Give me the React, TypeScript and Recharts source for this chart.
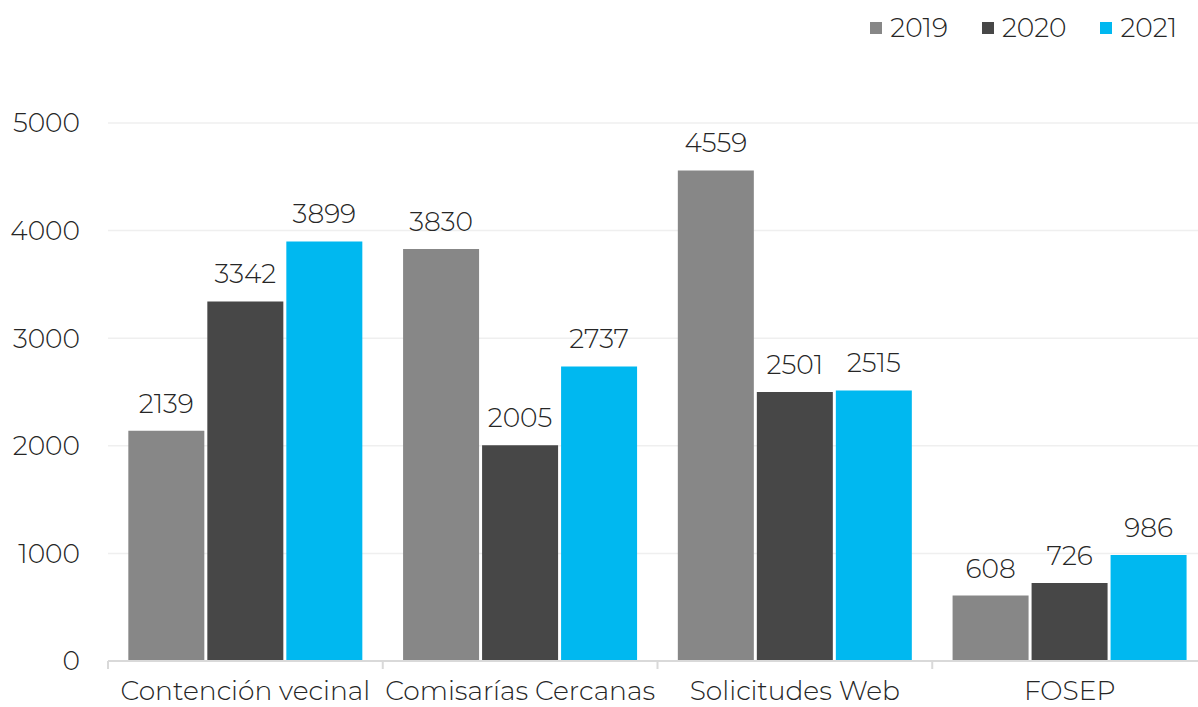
import { BarChart, Bar, XAxis, YAxis, CartesianGrid, LabelList } from 'recharts'

const categories = ['Contención vecinal', 'Comisarías Cercanas', 'Solicitudes Web', 'FOSEP']
const values2019 = [2139, 3830, 4559, 608]
const values2020 = [3342, 2005, 2501, 726]
const values2021 = [3899, 2737, 2515, 986]
const yTicks = [0, 1000, 2000, 3000, 4000, 5000]

const SERIES = [
  { key: 'y2019', name: '2019', color: '#878787' },
  { key: 'y2020', name: '2020', color: '#474747' },
  { key: 'y2021', name: '2021', color: '#00B8F0' },
]

const FONT = 'Montserrat, "Noto Sans", Lato, sans-serif'
const TEXT = '#262626'
const FS = 26.5

const WIDTH = 1198
const HEIGHT = 707
const Y_AXIS_W = 108
const RIGHT = -9
const BAND = (WIDTH - Y_AXIS_W - RIGHT) / categories.length

const data = categories.map((name, i) => ({
  name,
  y2019: values2019[i],
  y2020: values2020[i],
  y2021: values2021[i],
}))

function CategoryTick(props: any) {
  const { x, y, payload, index } = props
  const left = x - BAND / 2
  return (
    <g>
      <line x1={left} y1={y - 8} x2={left} y2={y} stroke="#d9d9d9" strokeWidth={2} />
      {index === categories.length - 1 && (
        <line x1={left + BAND} y1={y - 8} x2={left + BAND} y2={y} stroke="#d9d9d9" strokeWidth={2} />
      )}
      <text x={x} y={y + 31} textAnchor="middle" fontSize={FS} fontFamily={FONT} fontWeight={300} fill={TEXT}>
        {payload.value}
      </text>
    </g>
  )
}

function LegendBox() {
  return (
    <div style={{ position: 'absolute', top: 10, right: 21, display: 'flex', gap: 34, fontFamily: FONT, fontSize: FS, fontWeight: 300, color: TEXT, lineHeight: '36px' }}>
      {SERIES.map(s => (
        <div key={s.key} style={{ display: 'flex', alignItems: 'center', gap: 8 }}>
          <div style={{ width: 12, height: 12, backgroundColor: s.color }} />
          <span>{s.name}</span>
        </div>
      ))}
    </div>
  )
}

export default function App() {
  return (
    <div style={{ position: 'absolute', left: 0, top: 0, width: WIDTH, height: HEIGHT, background: '#fff', overflow: 'hidden' }}>
      <BarChart
        width={WIDTH}
        height={HEIGHT}
        data={data}
        margin={{ top: 123, right: RIGHT, left: 0, bottom: 0 }}
        barCategoryGap="7.4%"
        barGap={3}
      >
        <CartesianGrid vertical={false} stroke="#efefef" strokeWidth={1.5} />
        <XAxis
          dataKey="name"
          height={46}
          interval={0}
          axisLine={{ stroke: '#d9d9d9', strokeWidth: 2 }}
          tickLine={false}
          tick={<CategoryTick />}
        />
        <YAxis
          domain={[0, 5000]}
          ticks={yTicks}
          width={Y_AXIS_W}
          axisLine={false}
          tickLine={false}
          tickMargin={22}
          tick={{ fontSize: FS, fontFamily: FONT, fontWeight: 300, fill: TEXT }}
        />
        {SERIES.map(s => (
          <Bar key={s.key} dataKey={s.key} name={s.name} fill={s.color} isAnimationActive={false}>
            <LabelList dataKey={s.key} position="top" offset={18} style={{ fontSize: FS, fontFamily: FONT, fontWeight: 300, fill: TEXT }} />
          </Bar>
        ))}
      </BarChart>
      <LegendBox />
    </div>
  )
}
